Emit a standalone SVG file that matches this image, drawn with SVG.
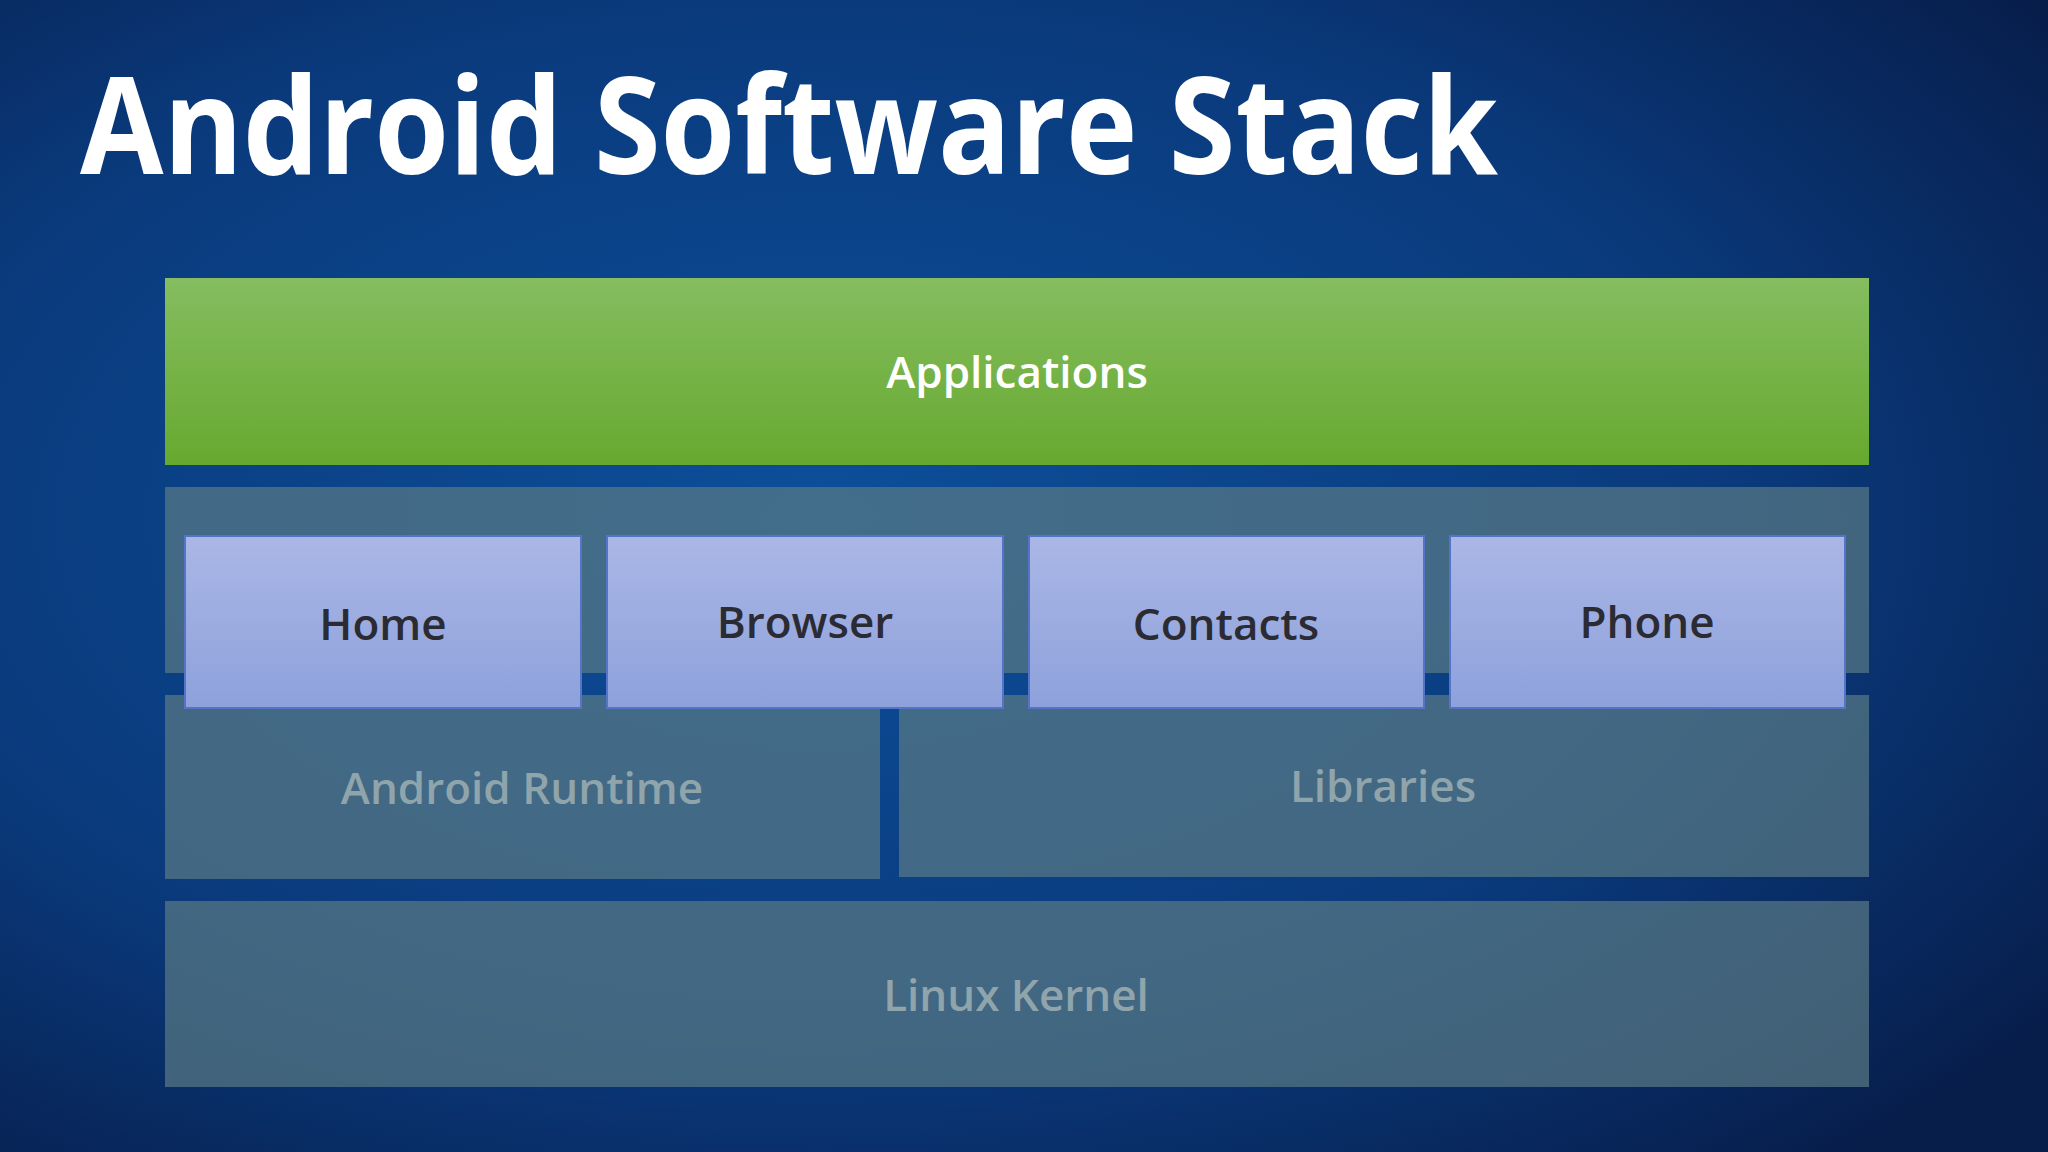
<svg xmlns="http://www.w3.org/2000/svg" width="2048" height="1152" viewBox="0 0 2048 1152">
<defs>
<radialGradient id="bg" cx="0.4" cy="0.45" r="0.75">
<stop offset="0" stop-color="#0c4f9a"/><stop offset="0.6" stop-color="#0a3a7c"/><stop offset="1" stop-color="#071d4a"/>
</radialGradient>
<linearGradient id="green" x1="0" y1="0" x2="0" y2="1"><stop offset="0" stop-color="#85bd60"/><stop offset="1" stop-color="#67a92f"/></linearGradient>
<linearGradient id="blue" x1="0" y1="0" x2="0" y2="1"><stop offset="0" stop-color="#aab7e6"/><stop offset="1" stop-color="#8ea1db"/></linearGradient>
<style>
.layer{fill:#5a7a84;fill-opacity:0.7}
.box{fill:url(#blue);stroke:#5574c8;stroke-width:2}
.bt{font-family:"Open Sans","Noto Sans",sans-serif;font-weight:600;font-size:44px;fill:#2b2b33;text-anchor:middle}
.lt{font-family:"Open Sans","Noto Sans",sans-serif;font-weight:600;font-size:44px;fill:#8fa4ab;text-anchor:middle}
</style>
</defs>
<rect width="2048" height="1152" fill="url(#bg)"/>
<text x="80" y="174" font-family="Open Sans, Noto Sans, sans-serif" font-weight="700" font-size="134" fill="#ffffff" textLength="1418" lengthAdjust="spacingAndGlyphs">Android Software Stack</text>
<g id="applications"><rect x="165" y="278" width="1704" height="187" fill="url(#green)"/><text x="1017" y="388" font-family="Open Sans, Noto Sans, sans-serif" font-weight="600" font-size="44" fill="#ffffff" text-anchor="middle">Applications</text></g>
<g id="framework"><rect class="layer" x="165" y="487" width="1704" height="186"/></g>
<g id="runtime"><rect class="layer" x="165" y="695" width="715" height="184"/><text class="lt" x="522" y="804">Android Runtime</text></g>
<g id="libraries"><rect class="layer" x="899" y="695" width="970" height="182"/><text class="lt" x="1383" y="802">Libraries</text></g>
<g id="kernel"><rect class="layer" x="165" y="901" width="1704" height="186"/><text class="lt" x="1016" y="1011">Linux Kernel</text></g>
<g id="home"><rect class="box" x="185" y="536" width="396" height="172"/><text class="bt" x="383" y="640">Home</text></g>
<g id="browser"><rect class="box" x="607" y="536" width="396" height="172"/><text class="bt" x="805" y="638">Browser</text></g>
<g id="contacts"><rect class="box" x="1029" y="536" width="395" height="172"/><text class="bt" x="1226" y="640">Contacts</text></g>
<g id="phone"><rect class="box" x="1450" y="536" width="395" height="172"/><text class="bt" x="1647" y="638">Phone</text></g>
<g id="connectors"/>
</svg>
